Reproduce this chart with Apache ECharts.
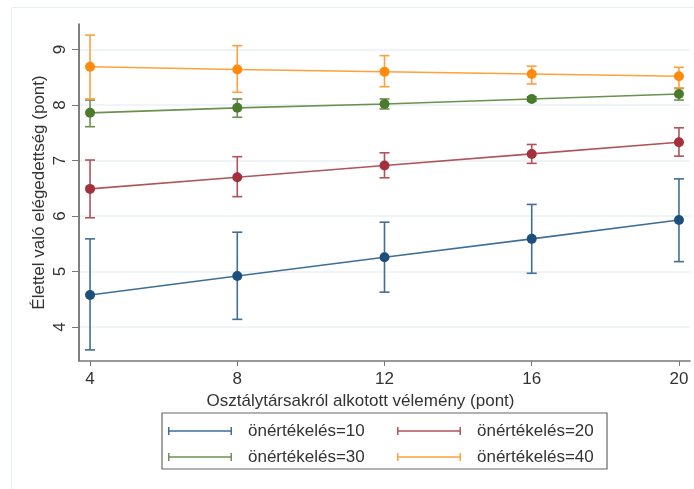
<!DOCTYPE html>
<html>
<head>
<meta charset="utf-8">
<script src="https://cdn.jsdelivr.net/npm/echarts@6/dist/echarts.min.js"></script>
<style>html,body{margin:0;padding:0;background:#fff}#c{width:694px;height:489px}</style>
</head>
<body>
<div id="c"></div>
<script>
const xValues = [4, 8, 12, 16, 20];
const xTicks = [4, 8, 12, 16, 20];
const yTicks = [4, 5, 6, 7, 8, 9];
const seriesNames = ['önértékelés=10', 'önértékelés=20', 'önértékelés=30', 'önértékelés=40'];
const mean10 = [4.58, 4.92, 5.26, 5.59, 5.93];
const low10  = [3.59, 4.14, 4.63, 4.97, 5.18];
const high10 = [5.59, 5.71, 5.89, 6.21, 6.67];
const mean20 = [6.49, 6.70, 6.91, 7.12, 7.33];
const low20  = [5.97, 6.35, 6.69, 6.95, 7.08];
const high20 = [7.01, 7.07, 7.14, 7.29, 7.59];
const mean30 = [7.86, 7.95, 8.02, 8.11, 8.20];
const low30  = [7.61, 7.78, 7.93, 8.07, 8.09];
const high30 = [8.09, 8.11, 8.11, 8.15, 8.30];
const mean40 = [8.69, 8.64, 8.60, 8.56, 8.52];
const low40  = [8.11, 8.23, 8.33, 8.38, 8.31];
const high40 = [9.26, 9.07, 8.89, 8.70, 8.68];
const xTitle = 'Osztálytársakról alkotott vélemény (pont)';
const yTitle = 'Élettel való elégedettség (pont)';

const means = [mean10, mean20, mean30, mean40];
const lows = [low10, low20, low30, low40];
const highs = [high10, high20, high30, high40];
const colors = ['#1c4f7c', '#a3303a', '#4a7a2c', '#ff8a0c'];
const barColors = ['#3f6f97', '#b0545c', '#6b9150', '#ffa040'];
const FONT = '"Liberation Sans", Arial, sans-serif';
const iconPath = 'path://M0,0h1.5v8H0z M1.5,3.3h61v1.4h-61z M62.5,0H64v8h-1.5z';

const series = [];
means.forEach((m, i) => {
  series.push({
    name: seriesNames[i],
    type: 'custom',
    z: 2,
    data: xValues.map((x, k) => [x, lows[i][k], highs[i][k]]),
    renderItem: function (params, api) {
      const x = api.value(0);
      const lo = api.coord([x, api.value(1)]);
      const hi = api.coord([x, api.value(2)]);
      const w = 5;
      const style = { stroke: barColors[i], lineWidth: 1.6, fill: null };
      return {
        type: 'group',
        children: [
          { type: 'line', shape: { x1: lo[0], y1: lo[1], x2: hi[0], y2: hi[1] }, style: style },
          { type: 'line', shape: { x1: lo[0] - w, y1: lo[1], x2: lo[0] + w, y2: lo[1] }, style: style },
          { type: 'line', shape: { x1: hi[0] - w, y1: hi[1], x2: hi[0] + w, y2: hi[1] }, style: style }
        ]
      };
    },
    encode: { x: 0, y: [1, 2] }
  });
  series.push({
    name: seriesNames[i],
    type: 'line',
    z: 3,
    data: xValues.map((x, k) => [x, m[k]]),
    symbol: 'circle',
    symbolSize: 10,
    lineStyle: { color: barColors[i], width: 1.6 },
    itemStyle: { color: colors[i] },
    emphasis: { disabled: true }
  });
});

const legendText = { fontFamily: FONT, fontSize: 17, color: '#333', lineHeight: 20, padding: [0, 0, 0, 11] };
const chart = echarts.init(document.getElementById('c'), null, { renderer: 'canvas' });
chart.setOption({
  animation: false,
  backgroundColor: '#fff',
  color: barColors,
  grid: { left: 79, top: 24, right: 4, bottom: 128 },
  xAxis: {
    type: 'value', min: 3.7, max: 20.3,
    name: xTitle, nameLocation: 'middle', nameGap: 29,
    nameTextStyle: { fontFamily: FONT, fontSize: 17, color: '#333', padding: [0, 48, 0, 0] },
    axisLine: { lineStyle: { color: '#777', width: 1.5 } },
    axisTick: { show: true, length: 5, customValues: xTicks, lineStyle: { color: '#777' } },
    axisLabel: { customValues: xTicks, fontFamily: FONT, fontSize: 17, color: '#333', margin: 10 },
    splitLine: { show: false }
  },
  yAxis: {
    type: 'value', min: 3.39, max: 9.46,
    name: yTitle, nameLocation: 'middle', nameGap: 31, nameMoveOverlap: false,
    nameTextStyle: { fontFamily: FONT, fontSize: 17, color: '#333' },
    axisLine: { show: true, lineStyle: { color: '#555', width: 1.5 } },
    axisTick: { show: true, length: 7, customValues: yTicks, lineStyle: { color: '#777' } },
    axisLabel: { customValues: yTicks, rotate: 90, fontFamily: FONT, fontSize: 17, color: '#333', margin: 10 },
    splitLine: { show: true, lineStyle: { color: '#eaf2f3', width: 1.5 } }
  },
  legend: [
    {
      orient: 'vertical', left: 163, top: 416, itemGap: 6, itemWidth: 64, itemHeight: 8,
      data: [{ name: seriesNames[0], icon: iconPath }, { name: seriesNames[2], icon: iconPath }],
      textStyle: legendText, selectedMode: false
    },
    {
      orient: 'vertical', left: 392, top: 416, itemGap: 6, itemWidth: 64, itemHeight: 8,
      data: [{ name: seriesNames[1], icon: iconPath }, { name: seriesNames[3], icon: iconPath }],
      textStyle: legendText, selectedMode: false
    }
  ],
  graphic: [
    { type: 'rect', shape: { x: 11.5, y: 7.5, width: 700, height: 500 }, style: { fill: null, stroke: '#e6f2f2', lineWidth: 1 }, z: -10, silent: true },
    { type: 'rect', shape: { x: 162, y: 413, width: 445, height: 56 }, style: { fill: null, stroke: '#666', lineWidth: 1.2 }, silent: true }
  ],
  series: series
});
</script>
</body>
</html>
